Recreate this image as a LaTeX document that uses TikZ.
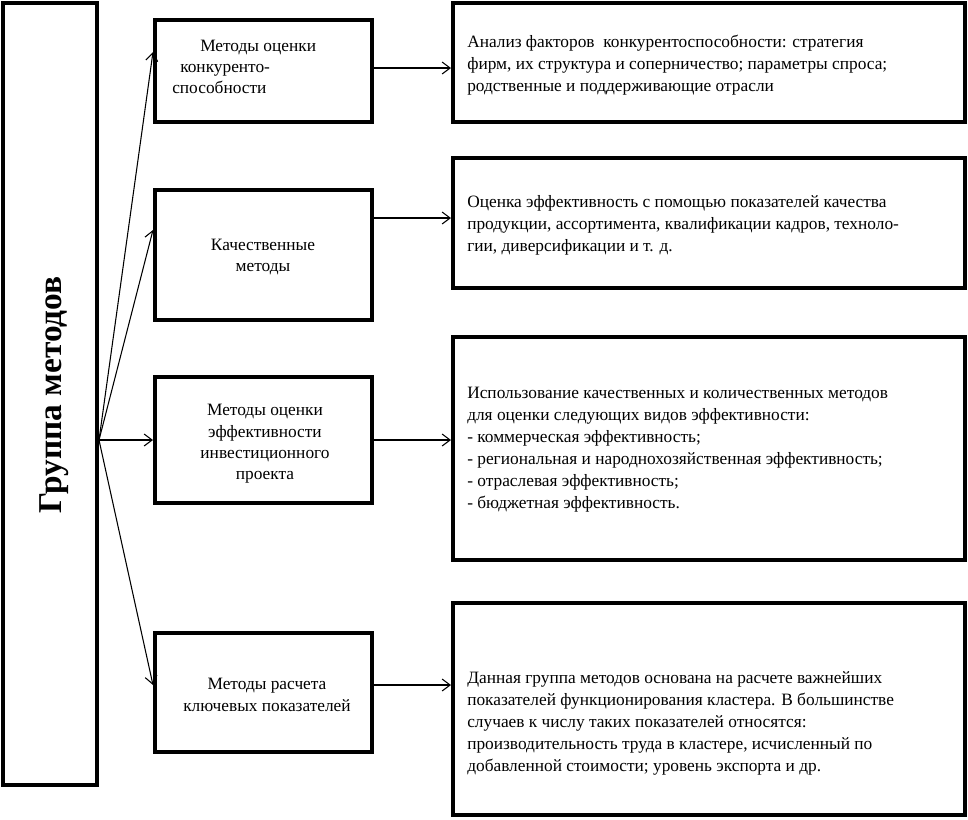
\documentclass[tikz,border=0pt]{standalone}
\usepackage{fontspec}
\setmainfont{Liberation Serif}
\usetikzlibrary{arrows.meta,fit}
\begin{document}
\begin{tikzpicture}[x=0.75pt,y=-0.75pt,
  box/.style={draw, line width=3pt, inner sep=0pt, rectangle},
  conn/.style={line width=0.8pt, -{Straight Barb[length=6pt,width=9pt]}},
  rtxt/.style={font=\fontsize{13}{16.5}\selectfont, align=left, anchor=west, inner sep=0pt},
  mtxt/.style={font=\fontsize{13}{16}\selectfont, align=center, inner sep=0pt}]
\useasboundingbox (0,0) rectangle (968,819);
% left box
\node[box, fit={(3,3)(97,785)}] (L) {};
\node[rotate=90, font=\bfseries\fontsize{25}{28}\selectfont] (Lt) at (54,395) {Группа методов};
% middle boxes
\node[box, fit={(155,20)(372,122)}] (m1) {};
\node[box, fit={(155,190)(372,320)}] (m2) {};
\node[box, fit={(155,377)(372,503)}] (m3) {};
\node[box, fit={(155,633)(372,752)}] (m4) {};
% right boxes
\node[box, fit={(453,3)(965,122)}] (r1) {};
\node[box, fit={(453,158)(965,288)}] (r2) {};
\node[box, fit={(453,337)(965,560)}] (r3) {};
\node[box, fit={(453,603)(965,815)}] (r4) {};
% middle texts
\node[rtxt, font=\fontsize{13}{16}\selectfont] (m1t) at (172,67) {\hspace*{21pt}Методы оценки\\\hspace*{6pt}конкуренто-\\способности};
\node[mtxt] (m2t) at (263,257) {Качественные\\методы};
\node[mtxt] (m3t) at (265,444) {Методы оценки\\эффективности\\инвестиционного\\проекта};
\node[mtxt] (m4t) at (267,695) {Методы расчета\\ключевых показателей};
% right texts
\node[rtxt] (r1t) at (467,65) {Анализ факторов~ конкурентоспособности: стратегия\\фирм, их структура и соперничество; параметры спроса;\\родственные и поддерживающие отрасли};
\node[rtxt] (r2t) at (467,225) {Оценка эффективность с помощью показателей качества\\продукции, ассортимента, квалификации кадров, техноло-\\гии, диверсификации и т. д.};
\node[rtxt] (r3t) at (467,450) {Использование качественных и количественных методов\\для оценки следующих видов эффективности:\\- коммерческая эффективность;\\- региональная и народнохозяйственная эффективность;\\- отраслевая эффективность;\\- бюджетная эффективность.};
\node[rtxt] (r4t) at (467,723) {Данная группа методов основана на расчете важнейших\\показателей функционирования кластера. В большинстве\\случаев к числу таких показателей относятся:\\производительность труда в кластере, исчисленный по\\добавленной стоимости; уровень экспорта и др.};
% connectors
\coordinate (o) at (L.east |- 0,440);
\draw[conn] (o) -- (m1.west |- 0,52);
\draw[conn] (o) -- (m2.west |- 0,230);
\draw[conn] (o) -- (m3.west |- 0,440);
\draw[conn] (o) -- (m4.west |- 0,685);
\draw[conn] (m1.east |- 0,68) -- (r1.west |- 0,68);
\draw[conn] (m2.east |- 0,218) -- (r2.west |- 0,218);
\draw[conn] (m3.east |- 0,440) -- (r3.west |- 0,440);
\draw[conn] (m4.east |- 0,685) -- (r4.west |- 0,685);
\end{tikzpicture}
\end{document}
